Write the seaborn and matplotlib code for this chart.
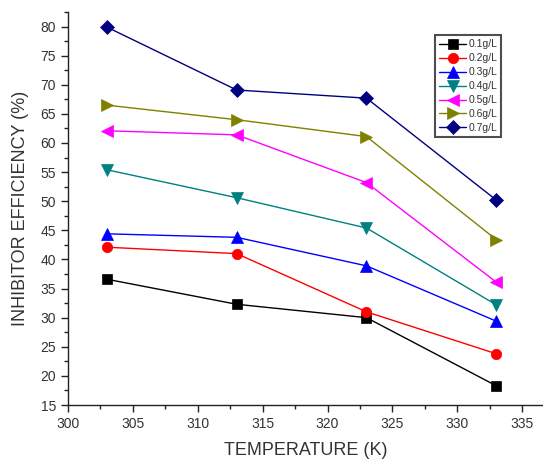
import matplotlib
matplotlib.use("Agg")
import matplotlib.pyplot as plt
from matplotlib.ticker import MultipleLocator
import seaborn as sns
import pandas as pd

temperature = [303, 313, 323, 333]
labels = ["0.1g/L", "0.2g/L", "0.3g/L", "0.4g/L", "0.5g/L", "0.6g/L", "0.7g/L"]
eff_01 = [36.6, 32.3, 30.0, 18.3]
eff_02 = [42.1, 41.0, 31.0, 23.8]
eff_03 = [44.4, 43.8, 38.9, 29.4]
eff_04 = [55.4, 50.6, 45.4, 32.2]
eff_05 = [62.1, 61.4, 53.2, 36.1]
eff_06 = [66.5, 64.0, 61.1, 43.4]
eff_07 = [79.9, 69.1, 67.7, 50.2]
series = [eff_01, eff_02, eff_03, eff_04, eff_05, eff_06, eff_07]

colors = ["#000000", "#ff0000", "#0000ff", "#008080", "#ff00ff", "#808000", "#000080"]
markers = ["s", "o", "^", "v", "<", ">", "D"]
msizes = [6.5, 7.5, 9, 9, 9, 9, 7.5]

sns.set_style("ticks")
plt.rcParams["font.family"] = ["Liberation Sans", "DejaVu Sans"]

fig = plt.figure(figsize=(5.43, 4.61), dpi=100)
ax = fig.add_axes([68/543, 56/461, 475/543, 393/461])

for lab, vals, c, m, ms in zip(labels, series, colors, markers, msizes):
    d = pd.DataFrame({"T": temperature, "IE": vals})
    sns.lineplot(data=d, x="T", y="IE", color=c, marker=m, markersize=ms,
                 markeredgewidth=0.5, markeredgecolor=c, linewidth=1.0,
                 label=lab, ax=ax)

ax.set_xlim(300, 336.6)
ax.set_ylim(15, 82.5)
ax.xaxis.set_major_locator(MultipleLocator(5))
ax.xaxis.set_minor_locator(MultipleLocator(2.5))
ax.yaxis.set_major_locator(MultipleLocator(5))
ax.yaxis.set_minor_locator(MultipleLocator(2.5))
ax.tick_params(which="major", direction="out", length=5, width=1, labelsize=10, labelcolor="#333333", color="#222222")
ax.tick_params(which="minor", direction="out", length=3, width=1, color="#222222")
for s in ["top", "right"]:
    ax.spines[s].set_visible(False)
for s in ["left", "bottom"]:
    ax.spines[s].set_linewidth(1.0)
    ax.spines[s].set_color("#222222")

ax.set_xlabel("TEMPERATURE (K)", fontsize=13, color="#333333", labelpad=8)
ax.set_ylabel("INHIBITOR EFFICIENCY (%)", fontsize=13, color="#333333", labelpad=8)

leg = ax.legend(loc="upper right", bbox_to_anchor=(0.912, 0.941), fontsize=7.5,
                frameon=True, fancybox=False, edgecolor="#222222",
                handlelength=2.6, handletextpad=0.2, labelspacing=0.38,
                borderpad=0.4, borderaxespad=0, markerscale=1.0)
leg.get_frame().set_linewidth(1.5)
for t in leg.get_texts():
    t.set_color("#333333")

fig.savefig("out.png", dpi=100)
